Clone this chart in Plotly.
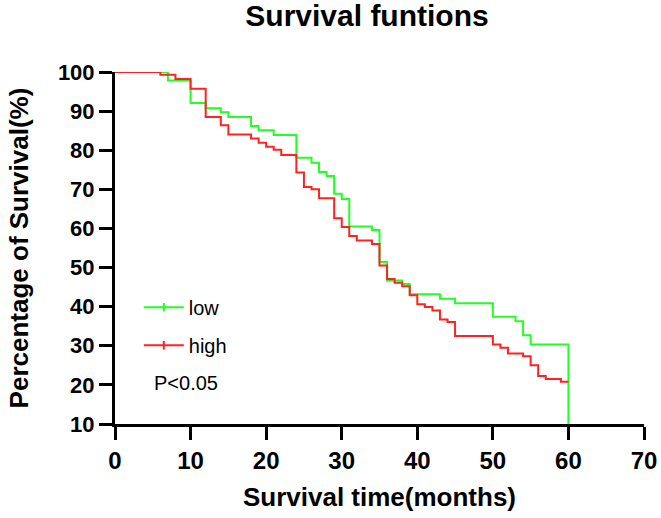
import plotly.graph_objects as go

# Kaplan-Meier step data (months, % survival)
low_t = [0, 7, 10, 12, 14, 15, 18, 19, 21, 24, 26, 27, 28, 29, 30, 31, 34, 35, 36, 38, 39, 43, 45, 50, 53, 54, 55, 60]
low_s = [100, 97.8, 92.1, 90.7, 89.7, 88.5, 86.2, 85.1, 83.9, 78.1, 76.8, 74.4, 73.4, 68.9, 67.5, 60.5, 59.6, 51.4, 46.7, 45.8, 43.2, 42.0, 40.9, 37.4, 36.3, 32.7, 30.3, 0]

high_t = [0, 6, 8, 10, 12, 14, 15, 18, 19, 20, 21, 22, 24, 25, 26, 27, 29, 30, 31, 32, 34, 35, 36, 37, 38, 39, 40, 41, 42, 43, 44, 45, 50, 51, 52, 54, 55, 56, 57, 59, 60]
high_s = [100, 99.3, 98.2, 95.7, 88.5, 86.4, 84.0, 83.0, 81.9, 80.9, 80.1, 78.8, 74.3, 70.6, 70.0, 67.7, 62.6, 60.4, 58.1, 56.9, 56.0, 50.5, 47.1, 46.1, 45.2, 42.9, 40.6, 39.9, 39.0, 36.7, 36.1, 32.5, 30.3, 29.5, 28.0, 27.3, 25.0, 22.3, 21.5, 20.8, 20.8]

x_ticks = [0, 10, 20, 30, 40, 50, 60, 70]
y_ticks = [10, 20, 30, 40, 50, 60, 70, 80, 90, 100]

GREEN = "#22FF22"
RED = "#FF2222"
FONT = "Liberation Sans, Arial, sans-serif"

fig = go.Figure()
fig.add_trace(go.Scatter(x=low_t, y=low_s, mode="lines", line=dict(color=GREEN, width=2, shape="hv"),
                         showlegend=False, hoverinfo="skip"))
fig.add_trace(go.Scatter(x=high_t, y=high_s, mode="lines", line=dict(color=RED, width=2, shape="hv"),
                         showlegend=False, hoverinfo="skip"))
# legend entries
fig.add_trace(go.Scatter(x=[None], y=[None], mode="lines+markers", name="low", legendgroup="low",
                         line=dict(color=GREEN, width=2),
                         marker=dict(symbol="line-ns", size=6, line=dict(color=GREEN, width=2))))
fig.add_trace(go.Scatter(x=[None], y=[None], mode="lines+markers", name="high", legendgroup="high",
                         line=dict(color=RED, width=2),
                         marker=dict(symbol="line-ns", size=6, line=dict(color=RED, width=2))))

fig.add_annotation(x=4.9, y=20.5, xref="x", yref="y", text="P<0.05", showarrow=False,
                   xanchor="left", yanchor="middle", font=dict(family=FONT, size=20, color="black"))

fig.update_layout(
    width=661, height=518,
    margin=dict(l=115, r=17, t=72, b=94),
    paper_bgcolor="white", plot_bgcolor="white",
    title=dict(text="<b>Survival funtions</b>", x=367/661, xref="container", xanchor="center",
               y=1-15.5/518, yref="container", yanchor="middle",
               font=dict(family=FONT, size=30, color="black")),
    legend=dict(x=0.045, y=0.387, xanchor="left", yanchor="top", bgcolor="rgba(0,0,0,0)",
                font=dict(family=FONT, size=20, color="black"), itemwidth=40, tracegroupgap=9),
    xaxis=dict(range=[0, 70], tickvals=x_ticks, ticktext=[f"<b>{v}</b>" for v in x_ticks],
               showgrid=False, zeroline=False, showline=True, linecolor="black", linewidth=3,
               ticks="outside", ticklen=13, tickwidth=3, tickcolor="black", automargin=False,
               tickfont=dict(family=FONT, size=24, color="black"),
               title=dict(text="<b>Survival time(months)</b>", font=dict(family=FONT, size=26, color="black"), standoff=16)),
    yaxis=dict(range=[10, 100], tickvals=y_ticks, ticktext=[f"<b>{v}</b>" for v in y_ticks],
               showgrid=False, zeroline=False, showline=True, linecolor="black", linewidth=3,
               ticks="outside", ticklen=13, tickwidth=3, tickcolor="black", automargin=False,
               tickfont=dict(family=FONT, size=22, color="black"),
               title=dict(text="<b>Percentage of Survival(%)</b>", font=dict(family=FONT, size=26, color="black"), standoff=22)),
)

fig.write_html("out.html", config={"displayModeBar": False},
               post_script="document.body.style.margin='0px';")
